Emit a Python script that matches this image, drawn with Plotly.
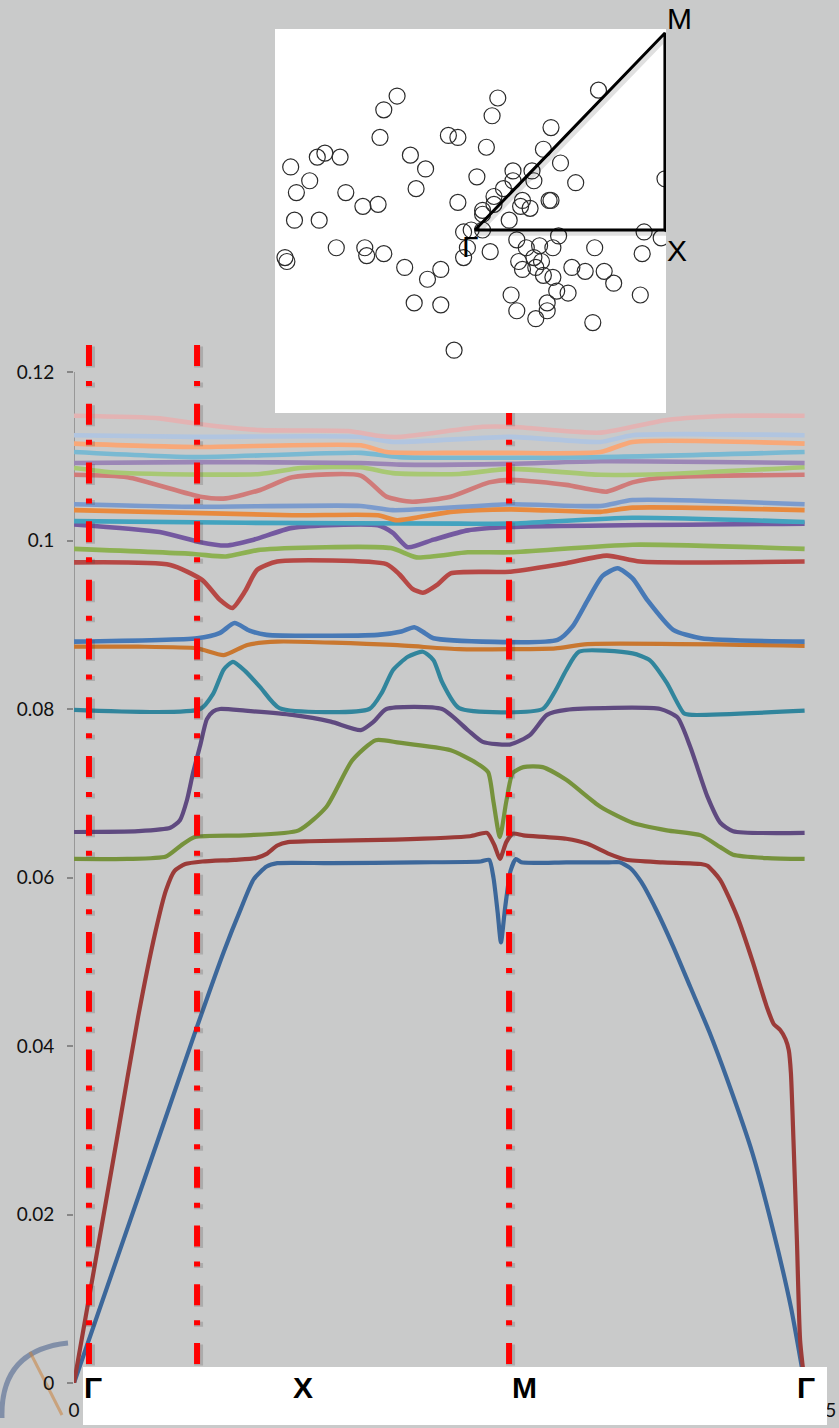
import plotly.graph_objects as go

# ---------------------------------------------------------------
# Phononic band structure along Γ–X–M–Γ (path length in units of |ΓX|)
# ---------------------------------------------------------------

k1 = [0, 0.2, 0.4, 0.575, 0.70, 0.78, 0.84, 0.90, 0.95, 1.2, 1.6, 1.90, 1.94, 1.96, 1.98, 1.995,
      2.015, 2.04, 2.065, 2.09, 2.3, 2.50, 2.55, 2.60, 2.65, 2.72, 2.80, 2.88, 2.97, 3.05, 3.17,
      3.27, 3.35, 3.414]
f1 = [0, 0.0147, 0.0294, 0.0423, 0.0512, 0.0563, 0.0598, 0.0613, 0.0617, 0.0617, 0.0618, 0.0619,
      0.0621, 0.0600, 0.0558, 0.0523, 0.0565, 0.0608, 0.0622, 0.0618, 0.0618, 0.0618, 0.0618,
      0.0611, 0.0595, 0.0562, 0.0518, 0.0470, 0.0416, 0.0362, 0.0273, 0.0178, 0.0090, 0.0]

k2 = [0, 0.1, 0.2, 0.3, 0.38, 0.43, 0.47, 0.52, 0.6, 0.75, 0.85, 0.90, 0.95, 1.0, 1.1, 1.5, 1.85,
      1.93, 1.965, 1.99, 2.02, 2.05, 2.1, 2.3, 2.4, 2.5, 2.58, 2.75, 2.93, 2.96, 3.02, 3.10, 3.173,
      3.238, 3.27, 3.30, 3.325, 3.340, 3.350, 3.362, 3.378, 3.393, 3.414]
f2 = [0, 0.0144, 0.0289, 0.0435, 0.0535, 0.0585, 0.0608, 0.0616, 0.0619, 0.0621, 0.0623, 0.0628,
      0.0638, 0.0642, 0.0643, 0.0645, 0.0649, 0.0653, 0.0638, 0.0622, 0.0642, 0.0652, 0.0650,
      0.0646, 0.0640, 0.0628, 0.0621, 0.0618, 0.0616, 0.0614, 0.0597, 0.0553, 0.0499, 0.0446,
      0.0426, 0.0419, 0.0408, 0.0395, 0.0368, 0.0288, 0.0170, 0.0051, 0.0]

k3 = [0, 0.25, 0.43, 0.50, 0.565, 0.8, 1.05, 1.18, 1.30, 1.41, 1.52, 1.76, 1.88, 1.935, 1.96, 1.99,
      2.02, 2.05, 2.10, 2.19, 2.30, 2.46, 2.61, 2.77, 2.93, 3.02, 3.08, 3.24, 3.414]
f3 = [0.0622, 0.0622, 0.0625, 0.0638, 0.0648, 0.0650, 0.0656, 0.0684, 0.0739, 0.0763, 0.0760,
      0.0751, 0.0736, 0.0725, 0.0690, 0.0648, 0.0690, 0.0724, 0.0731, 0.0731, 0.0716, 0.0684,
      0.0665, 0.0656, 0.0650, 0.0636, 0.0627, 0.0623, 0.0622]

k4 = [0, 0.3, 0.45, 0.495, 0.528, 0.556, 0.589, 0.621, 0.650, 0.682, 0.8, 1.02, 1.2, 1.34, 1.40,
      1.46, 1.72, 1.84, 1.91, 2.04, 2.13, 2.21, 2.30, 2.74, 2.82, 2.88, 2.96, 3.02, 3.08, 3.414]
f4 = [0.0654, 0.0655, 0.0659, 0.0668, 0.0692, 0.0724, 0.0756, 0.0788, 0.0797, 0.0800, 0.0798,
      0.0793, 0.0785, 0.0775, 0.0785, 0.0800, 0.0800, 0.0775, 0.0761, 0.0758, 0.0769, 0.0793,
      0.0799, 0.0800, 0.0790, 0.0755, 0.0696, 0.0665, 0.0655, 0.0653]

k5 = [0, 0.59, 0.65, 0.70, 0.743, 0.80, 0.87, 0.96, 1.38, 1.44, 1.49, 1.56, 1.63, 1.68, 1.72, 1.80,
      2.19, 2.25, 2.30, 2.36, 2.61, 2.69, 2.77, 2.85, 2.89, 3.414]
f5 = [0.0799, 0.0800, 0.0818, 0.0847, 0.0856, 0.0845, 0.0826, 0.0801, 0.0800, 0.0820, 0.0846,
      0.0862, 0.0868, 0.0858, 0.0832, 0.0801, 0.0800, 0.0822, 0.0846, 0.0868, 0.0866, 0.0858,
      0.0831, 0.0795, 0.0793, 0.0798]

k6 = [0, 0.3, 0.575, 0.70, 0.81, 0.95, 1.49, 1.80, 2.04, 2.25, 2.40, 3.414]
f6 = [0.0874, 0.0874, 0.0872, 0.0864, 0.0876, 0.0880, 0.0876, 0.0871, 0.0871, 0.0872, 0.0877, 0.0875]

k7 = [0, 0.575, 0.68, 0.75, 0.82, 0.90, 1.42, 1.53, 1.59, 1.64, 1.68, 2.26, 2.33, 2.40, 2.47, 2.54,
      2.61, 2.68, 2.80, 2.93, 3.414]
f7 = [0.0880, 0.0884, 0.0890, 0.0902, 0.0893, 0.0888, 0.0888, 0.0892, 0.0897, 0.0890, 0.0884,
      0.0882, 0.0898, 0.0929, 0.0958, 0.0967, 0.0955, 0.0929, 0.0894, 0.0884, 0.0880]

k8 = [0, 0.45, 0.60, 0.68, 0.74, 0.80, 0.855, 0.95, 1.46, 1.52, 1.58, 1.63, 1.70, 1.76, 2.04, 2.30,
      2.49, 2.645, 3.414]
f8 = [0.0974, 0.0971, 0.0953, 0.0930, 0.0920, 0.0940, 0.0965, 0.0975, 0.0972, 0.0960, 0.0943,
      0.0938, 0.0948, 0.0961, 0.0963, 0.0973, 0.0982, 0.0975, 0.0975]

k9 = [0, 0.56, 0.71, 0.87, 1.48, 1.60, 1.84, 2.04, 2.61, 3.414]
f9 = [0.0990, 0.0984, 0.0981, 0.0989, 0.0991, 0.0980, 0.0986, 0.0986, 0.0995, 0.0990]

k10 = [0, 0.40, 0.59, 0.71, 0.84, 1.02, 1.42, 1.49, 1.56, 1.68, 1.84, 2.04, 3.414]
f10 = [0.1019, 0.1010, 0.0998, 0.0994, 0.1001, 0.1015, 0.1018, 0.1009, 0.0992, 0.1001, 0.1012,
       0.1016, 0.1020]

k11 = [0, 0.8, 1.80, 2.04, 2.61, 3.414]
f11 = [0.1023, 0.1021, 0.1020, 0.1020, 0.1027, 0.1022]

k12 = [0, 1.02, 1.42, 1.51, 1.76, 2.04, 2.46, 2.61, 3.414]
f12 = [0.1036, 0.1030, 0.1030, 0.1024, 0.1034, 0.1037, 0.1034, 0.1039, 0.1036]

k13 = [0, 0.56, 1.34, 1.49, 2.04, 2.46, 2.61, 3.414]
f13 = [0.1043, 0.1040, 0.1041, 0.1036, 0.1043, 0.1041, 0.1048, 0.1043]

k14 = [0, 0.25, 0.59, 0.71, 0.87, 1.02, 1.34, 1.46, 1.58, 1.76, 1.94, 2.04, 2.30, 2.49, 2.61, 2.77,
       3.414]
f14 = [0.1078, 0.1075, 0.1052, 0.1050, 0.1060, 0.1075, 0.1077, 0.1052, 0.1046, 0.1052, 0.1069,
       0.1072, 0.1066, 0.1058, 0.1069, 0.1075, 0.1078]

k15 = [0, 0.17, 0.40, 0.87, 1.06, 1.34, 1.49, 1.80, 2.04, 2.46, 2.77, 3.414]
f15 = [0.1086, 0.1081, 0.1079, 0.1079, 0.1086, 0.1087, 0.1080, 0.1079, 0.1085, 0.1078, 0.1079, 0.1087]

k16 = [0, 0.56, 1.34, 1.52, 2.04, 2.46, 3.414]
f16 = [0.1092, 0.1093, 0.1092, 0.1090, 0.1091, 0.1094, 0.1092]

k17 = [0, 0.56, 1.34, 1.52, 2.46, 3.414]
f17 = [0.1105, 0.1099, 0.1104, 0.1099, 0.1099, 0.1105]

k18 = [0, 0.56, 1.34, 1.46, 1.80, 2.04, 2.46, 2.61, 3.414]
f18 = [0.1115, 0.1111, 0.1113, 0.1105, 0.1104, 0.1104, 0.1105, 0.1117, 0.1115]

k19 = [0, 0.56, 1.34, 1.49, 2.04, 2.46, 2.61, 3.414]
f19 = [0.1125, 0.1123, 0.1123, 0.1117, 0.1123, 0.1117, 0.1125, 0.1125]

k20 = [0, 0.40, 0.59, 0.87, 1.28, 1.43, 1.52, 1.91, 2.04, 2.46, 2.77, 3.08, 3.414]
f20 = [0.1148, 0.1145, 0.1138, 0.1131, 0.1130, 0.1124, 0.1123, 0.1135, 0.1135, 0.1128, 0.1143,
       0.1148, 0.1148]

band_colors = ["#3C679A", "#9B3B38", "#76923C", "#5F4A80", "#31859C", "#C9772F",
               "#4779B6", "#B64845", "#8DB152", "#7459A0", "#42A3BF", "#E88A3E",
               "#7B9BCD", "#D07B79", "#A8C873", "#9B86B6", "#79B9D2", "#F8A878",
               "#B1C5E0", "#E3B3B3"]

# vertical dash-dot guides and high-symmetry point labels
guide_k = [0.07, 0.575, 2.033]
guide_top = 0.1232
sym_labels = ["Γ", "X", "M", "Γ"]
sym_k = [0.089, 1.070, 2.103, 3.421]

y_ticks = [0, 0.02, 0.04, 0.06, 0.08, 0.1, 0.12]
y_ticktext = ["0", "0.02", "0.04", "0.06", "0.08", "0.1", "0.12"]
x_ticks = [0, 0.5, 1, 1.5, 2, 2.5, 3, 3.5]
x_ticktext = ["0", "0.5", "1", "1.5", "2", "2.5", "3", "3.5"]

# supercell scatterer positions (reduced coords, Γ at origin) and IBZ triangle
atom_x = [-0.41, -0.48, -0.50, 0.12, 0.09, -0.14, -0.09, 0.06, 0.65, 0.40, 0.36, 0.45, 0.53,
          -0.79, -0.83, -0.71, -0.97, -0.34, -0.26, -0.87, -0.94, -0.68, -0.31, -0.59, -0.51,
          -0.95, -0.82, -0.09, 0.01, 0.20, 0.30, 0.20, 0.31, 0.15, 0.10, 0.25, 0.39, 0.40,
          0.10, 0.04, 0.24, 0.29, 0.18, 0.04, -0.06, -0.02, 0.04, 1.00, 0.89, 0.44, 0.98,
          -0.73, -0.58, -0.57, -0.48, -1.00, -0.99, -0.04, -0.06, 0.08, 0.22, 0.34, 0.27,
          0.41, 0.63, 0.88, -0.37, -0.18, -0.25, 0.23, 0.31, 0.35, 0.25, 0.32, 0.36, 0.41,
          0.51, 0.58, 0.68, 0.73, 0.43, 0.49, 0.19, 0.87, -0.32, -0.18, 0.38, 0.38, 0.22,
          0.32, 0.62, -0.11]
atom_y = [0.68, 0.61, 0.47, 0.67, 0.58, 0.48, 0.47, 0.42, 0.71, 0.52, 0.41, 0.34, 0.24,
          0.39, 0.37, 0.37, 0.32, 0.38, 0.31, 0.25, 0.19, 0.19, 0.21, 0.12, 0.13,
          0.05, 0.05, 0.14, 0.27, 0.30, 0.30, 0.25, 0.25, 0.21, 0.17, 0.15, 0.15, 0.15,
          0.13, 0.10, 0.12, 0.11, 0.05, 0.08, -0.01, 0.00, 0.00, 0.26, -0.01, -0.03, -0.04,
          -0.09, -0.09, -0.13, -0.12, -0.14, -0.16, -0.09, -0.14, -0.11, -0.05, -0.08, -0.09,
          -0.09, -0.09, -0.12, -0.19, -0.20, -0.25, -0.16, -0.14, -0.16, -0.20, -0.19, -0.23,
          -0.24, -0.19, -0.21, -0.21, -0.27, -0.31, -0.32, -0.33, -0.33, -0.37, -0.38, -0.37,
          -0.41, -0.41, -0.45, -0.47, -0.61]
ibz_x = [0, 1, 1, 0]
ibz_y = [0, 0, 1, 0]
ibz_labels = ["M", "X", "Γ"]
ibz_label_px = [(679, 19), (677, 250), (470, 246)]

W, H = 839, 1428
BG = "#C9CACA"
DASH = "21px,15px,5px,17.7px"

fig = go.Figure()

bands = [(k1, f1), (k2, f2), (k3, f3), (k4, f4), (k5, f5), (k6, f6), (k7, f7), (k8, f8),
         (k9, f9), (k10, f10), (k11, f11), (k12, f12), (k13, f13), (k14, f14), (k15, f15),
         (k16, f16), (k17, f17), (k18, f18), (k19, f19), (k20, f20)]

for i, (kk, ff) in enumerate(bands):
    fig.add_trace(go.Scatter(
        x=kk, y=ff, mode="lines",
        line=dict(color=band_colors[i], width=4.2 if i < 6 else 4.6, shape="spline", smoothing=0.6),
        hoverinfo="skip", showlegend=False, xaxis="x", yaxis="y"))

# guides: soft drop shadow, then the red dash-dot stroke
px_k = 1 / 214.0
px_f = 1 / 8425.0
for gk in guide_k:
    fig.add_trace(go.Scatter(
        x=[gk + 1.5 * px_k, gk + 1.5 * px_k], y=[guide_top - 1.5 * px_f, -1.5 * px_f], mode="lines",
        line=dict(color="rgba(70,70,70,0.22)", width=9, dash=DASH),
        hoverinfo="skip", showlegend=False, xaxis="x", yaxis="y"))
    fig.add_trace(go.Scatter(
        x=[gk, gk], y=[guide_top, 0], mode="lines",
        line=dict(color="#FF0000", width=6, dash=DASH),
        hoverinfo="skip", showlegend=False, xaxis="x", yaxis="y"))

# inset: white panel, scatterers, irreducible Brillouin zone
ix_rng = [-1.0526, 1.0053]
iy_rng = [-0.9289, 1.0203]
fig.add_trace(go.Scatter(
    x=[ix_rng[0], ix_rng[1], ix_rng[1], ix_rng[0], ix_rng[0]],
    y=[iy_rng[0], iy_rng[0], iy_rng[1], iy_rng[1], iy_rng[0]],
    mode="lines", fill="toself", fillcolor="white", line=dict(width=0, color="white"),
    hoverinfo="skip", showlegend=False, xaxis="x2", yaxis="y2"))
fig.add_trace(go.Scatter(
    x=atom_x, y=atom_y, mode="markers",
    marker=dict(symbol="circle-open", size=16, color="#2B2B2B", line=dict(width=1.2)),
    hoverinfo="skip", showlegend=False, xaxis="x2", yaxis="y2"))
fig.add_trace(go.Scatter(
    x=[v + 0.008 for v in ibz_x], y=[v - 0.012 for v in ibz_y], mode="lines",
    line=dict(color="rgba(0,0,0,0.12)", width=7),
    hoverinfo="skip", showlegend=False, xaxis="x2", yaxis="y2"))
fig.add_trace(go.Scatter(
    x=ibz_x, y=ibz_y, mode="lines", line=dict(color="black", width=3),
    hoverinfo="skip", showlegend=False, xaxis="x2", yaxis="y2"))

annotations = []
for lab, (px, py) in zip(ibz_labels, ibz_label_px):
    annotations.append(dict(text=lab, x=px / W, y=(H - py) / H, xref="paper", yref="paper",
                            showarrow=False,
                            font=dict(family="Liberation Sans, Arial", size=30, color="black"),
                            xanchor="center", yanchor="middle"))
for lab, lx in zip(sym_labels, sym_k):
    annotations.append(dict(text="<b>%s</b>" % lab, x=lx, y=(H - 1387.5) / H, xref="x", yref="paper",
                            showarrow=False,
                            font=dict(family="Liberation Sans, Arial", size=30, color="black"),
                            xanchor="center", yanchor="middle"))

shapes = [
    # faint corner logo swoosh behind the label strip
    dict(type="path", xref="paper", yref="paper",
         path="M %f,%f Q %f,%f %f,%f" % (2 / W, (H - 1418) / H, 0 / W, (H - 1350) / H,
                                         68 / W, (H - 1343) / H),
         line=dict(color="rgba(70,95,140,0.55)", width=5), layer="below"),
    dict(type="line", xref="paper", yref="paper", x0=30 / W, y0=(H - 1352) / H,
         x1=62 / W, y1=(H - 1415) / H, line=dict(color="rgba(200,130,60,0.55)", width=3),
         layer="below"),
    # value axis line, drawn only up to the top tick
    dict(type="line", xref="x", yref="y", x0=0, x1=0, y0=0, y1=0.12,
         line=dict(color="#878787", width=1.5), layer="below"),
    # label strip along the k-path
    dict(type="rect", xref="paper", yref="paper", x0=83 / W, x1=827 / W,
         y0=(H - 1425) / H, y1=(H - 1367) / H,
         fillcolor="white", line=dict(width=0), layer="above"),
]

tick_font = dict(family="Lato, Open Sans, sans-serif", size=19, color="#111111")

fig.update_layout(
    width=W, height=H, autosize=False,
    margin=dict(l=0, r=0, t=0, b=0, pad=0, autoexpand=False),
    paper_bgcolor=BG, plot_bgcolor="rgba(0,0,0,0)",
    showlegend=False,
    xaxis=dict(domain=[74 / W, 823 / W], range=[0, 3.5], tickvals=x_ticks, ticktext=x_ticktext,
               showgrid=False, zeroline=False, showline=False, ticks="", tickfont=tick_font,
               ticklabelstandoff=14, automargin=False, fixedrange=True),
    yaxis=dict(domain=[(H - 1383) / H, (H - 340) / H], range=[0, 1043 / 8425],
               tickvals=y_ticks, ticktext=y_ticktext, showgrid=False, zeroline=False,
               showline=False, ticks="outside", ticklen=6, tickwidth=1.5, tickcolor="#878787",
               tickfont=tick_font, ticklabelstandoff=9, automargin=False, fixedrange=True),
    xaxis2=dict(domain=[275 / W, 666 / W], range=ix_rng, visible=False, automargin=False,
                fixedrange=True),
    yaxis2=dict(domain=[(H - 413) / H, (H - 29) / H], range=iy_rng, visible=False,
                automargin=False, fixedrange=True),
    annotations=annotations,
    shapes=shapes,
)

fig.write_html("out.html", config={"displayModeBar": False})
